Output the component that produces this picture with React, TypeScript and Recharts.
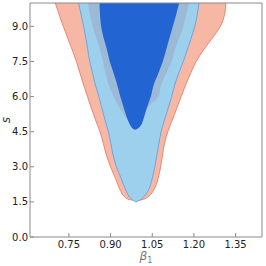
import React from 'react';
import { ComposedChart, Area, XAxis, YAxis, Label } from 'recharts';

const font = 'DejaVu Sans, sans-serif';

const xTicks = [0.75, 0.9, 1.05, 1.2, 1.35];
const yTicks = [0, 1.5, 3, 4.5, 6, 7.5, 9];

// outer (red) contour, x range per s level
const outerS = [10, 9.5, 9, 8.5, 8, 7.5, 7, 6.5, 6, 5.5, 5, 4.5, 4, 3.5, 3, 2.5, 2, 1.75, 1.62, 1.55];
const outerLo = [0.701, 0.715, 0.73, 0.746, 0.762, 0.777, 0.79, 0.803, 0.817, 0.831, 0.846, 0.862, 0.874, 0.885, 0.9, 0.918, 0.935, 0.948, 0.962, 0.995];
const outerHi = [1.315, 1.31, 1.295, 1.266, 1.235, 1.208, 1.188, 1.17, 1.154, 1.138, 1.122, 1.106, 1.094, 1.087, 1.08, 1.071, 1.055, 1.038, 1.02, 0.998];

// light blue contour
const midS = [10, 9.5, 9, 8.5, 8, 7.5, 7, 6.5, 6, 5.5, 5, 4.5, 4, 3.5, 3, 2.5, 2, 1.75, 1.6, 1.5];
const midLo = [0.785, 0.794, 0.803, 0.811, 0.818, 0.825, 0.835, 0.845, 0.858, 0.869, 0.88, 0.892, 0.901, 0.909, 0.921, 0.938, 0.955, 0.966, 0.978, 0.99];
const midHi = [1.218, 1.212, 1.203, 1.19, 1.176, 1.162, 1.145, 1.131, 1.12, 1.107, 1.094, 1.082, 1.074, 1.067, 1.059, 1.05, 1.036, 1.022, 1.008, 0.992];

// grey-blue overlap band
const bandS = [10, 9.5, 9, 8.5, 8, 7.5, 7, 6.5, 6, 5.5, 5];
const bandLo = [0.818, 0.826, 0.836, 0.849, 0.862, 0.872, 0.882, 0.893, 0.911, 0.933, 0.962];
const bandHi = [1.183, 1.172, 1.162, 1.147, 1.131, 1.12, 1.1, 1.082, 1.072, 1.032, 1.017];

// dark blue core
const coreS = [10, 9.5, 9, 8.5, 8, 7.5, 7, 6.5, 6, 5.5, 5, 4.75, 4.65, 4.58];
const coreLo = [0.86, 0.862, 0.866, 0.875, 0.887, 0.897, 0.911, 0.924, 0.935, 0.948, 0.962, 0.972, 0.978, 0.987];
const coreHi = [1.147, 1.136, 1.124, 1.112, 1.1, 1.088, 1.072, 1.055, 1.045, 1.03, 1.017, 1.008, 1.0, 0.989];

const rows = (s: number[], lo: number[], hi: number[]) =>
  s.map((v, i) => ({ s: v, x: [lo[i], hi[i]] }));

const outerData = rows(outerS, outerLo, outerHi);
const midData = rows(midS, midLo, midHi);
const bandData = rows(bandS, bandLo, bandHi);
const coreData = rows(coreS, coreLo, coreHi);

const xDomain: [number, number] = [0.61, 1.445];
const frame = '#8a8a8a';
const tickStyle = { fill: '#222', fontSize: 10, fontFamily: font };

const XLabel = ({ viewBox }: any) => (
  <text
    x={viewBox.x + viewBox.width / 2}
    y={viewBox.y + 23}
    textAnchor="middle"
    fill="#777"
    fontSize={12}
    fontStyle="italic"
    fontFamily={font}
  >
    β<tspan dy={3} fontSize={8} fontStyle="normal">1</tspan>
  </text>
);

const YLabel = ({ viewBox }: any) => (
  <text
    transform={`translate(${viewBox.x + 10}, ${viewBox.y + viewBox.height / 2}) rotate(-90)`}
    textAnchor="middle"
    fill="#333"
    fontSize={12}
    fontStyle="italic"
    fontFamily={font}
  >
    s
  </text>
);

export default function App() {
  return (
    <div style={{ position: 'absolute', left: 0, top: 0 }}>
      <ComposedChart
        width={266}
        height={266}
        layout="vertical"
        margin={{ top: 2, right: 3, bottom: 0, left: 0 }}
      >
        <XAxis
          type="number"
          domain={xDomain}
          ticks={xTicks}
          interval={0}
          allowDataOverflow
          height={29}
          tickSize={-4}
          tickMargin={8}
          stroke={frame}
          tick={tickStyle}
          tickFormatter={(v: number) => v.toFixed(2)}
        >
          <Label content={<XLabel />} />
        </XAxis>
        <XAxis
          xAxisId="top"
          orientation="top"
          type="number"
          domain={xDomain}
          ticks={xTicks}
          interval={0}
          allowDataOverflow
          height={1}
          tickSize={-4}
          stroke={frame}
          tick={false}
        />
        <YAxis
          type="number"
          dataKey="s"
          domain={[0, 10]}
          reversed
          ticks={yTicks}
          interval={0}
          allowDataOverflow
          width={30}
          tickSize={-4}
          tickMargin={6}
          stroke={frame}
          tick={tickStyle}
          tickFormatter={(v: number) => v.toFixed(1)}
        >
          <Label content={<YLabel />} />
        </YAxis>
        <YAxis
          yAxisId="right"
          orientation="right"
          type="number"
          domain={[0, 10]}
          reversed
          ticks={yTicks}
          interval={0}
          allowDataOverflow
          width={1}
          tickSize={-4}
          stroke={frame}
          tick={false}
        />
        <Area
          data={outerData}
          dataKey="x"
          type="monotone"
          fill="#f6b8a5"
          fillOpacity={1}
          stroke="#ec8470"
          strokeWidth={1}
          isAnimationActive={false}
        />
        <Area
          data={midData}
          dataKey="x"
          type="monotone"
          fill="#9dd0ec"
          fillOpacity={1}
          stroke="#6da6dc"
          strokeWidth={1}
          isAnimationActive={false}
        />
        <Area
          data={bandData}
          dataKey="x"
          type="monotone"
          fill="#9cb9d5"
          fillOpacity={1}
          stroke="none"
          isAnimationActive={false}
        />
        <Area
          data={coreData}
          dataKey="x"
          type="monotone"
          fill="#2264d1"
          fillOpacity={1}
          stroke="none"
          isAnimationActive={false}
        />
      </ComposedChart>
    </div>
  );
}
